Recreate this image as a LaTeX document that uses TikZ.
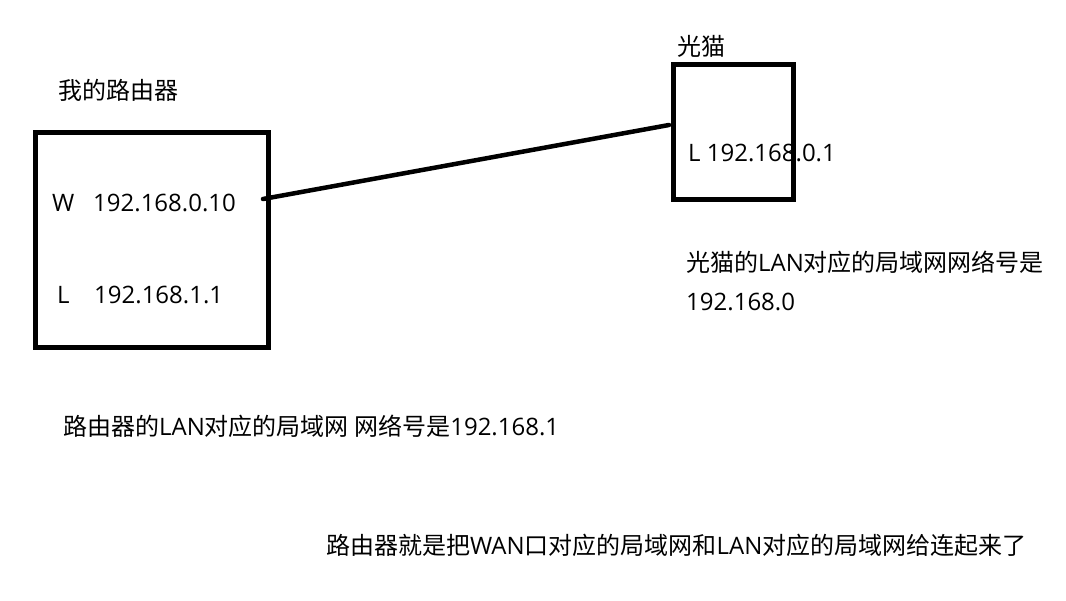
\documentclass[tikz,border=0pt]{standalone}
\usepackage{fontspec}
\setmainfont{Open Sans}
\newfontfamily\cjk{Noto Sans CJK SC}
\newcommand{\zh}[1]{{\cjk #1}}
\begin{document}
\begin{tikzpicture}[x=1pt,y=-1pt,
  box/.style={draw=black,line width=5pt},
  lbl/.style={anchor=west,inner sep=0pt,font=\fontsize{24}{28}\selectfont},
  wire/.style={line width=4.5pt,line cap=round}]
\useasboundingbox (0,0) rectangle (1066,600);
\fill[white] (0,0) rectangle (1066,600);
\draw[box] (35.5,132.5) rectangle (268.5,347.5);
\draw[box] (673.3,64.8) rectangle (793.3,199);
\node[lbl] (rt) at (58,90) {\zh{我的路由器}};
\node[lbl] (rw) at (52,203) {W};
\node[lbl] (rwip) at (93,203) {192.168.0.10};
\node[lbl] (rl) at (57,295) {L};
\node[lbl] (rlip) at (94,295) {192.168.1.1};
\node[lbl] (mt) at (677,46) {\zh{光猫}};
\node[lbl] (ml) at (688,153) {L 192.168.0.1};
\node[lbl] (m1) at (686,262) {\zh{光猫的}LAN\zh{对应的局域网网络号是}};
\node[lbl] (m2) at (686,302) {192.168.0};
\node[lbl] (r1) at (63,426) {\zh{路由器的}LAN\zh{对应的局域网 网络号是}192.168.1};
\node[lbl] (b1) at (326,545) {\zh{路由器就是把}WAN\zh{口对应的局域网和}LAN\zh{对应的局域网给连起来了}};
\coordinate (a) at (263,199);
\coordinate (b) at (669,125);
\draw[wire] (a) -- (b);
\end{tikzpicture}
\end{document}
